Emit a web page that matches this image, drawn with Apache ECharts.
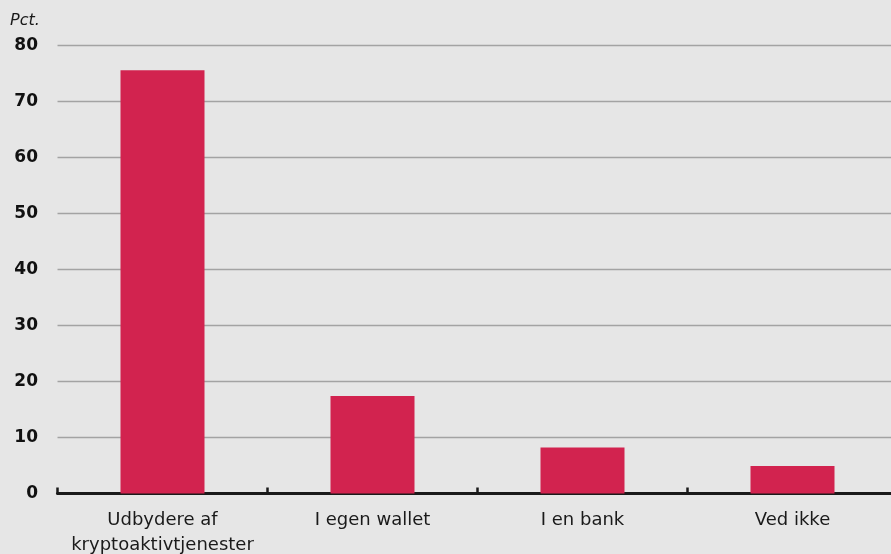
<!DOCTYPE html>
<html>
<head>
<meta charset="utf-8">
<script src="https://cdn.jsdelivr.net/npm/echarts@6/dist/echarts.min.js"></script>
<style>
html,body{margin:0;padding:0;background:#e6e6e6;}
#chart{width:891px;height:554px;}
</style>
</head>
<body>
<div id="chart"></div>
<script>
const categories = ['Udbydere af\nkryptoaktivtjenester', 'I egen wallet', 'I en bank', 'Ved ikke'];
const values = [75.6, 17.4, 8.2, 4.9];
const yTicks = [0, 10, 20, 30, 40, 50, 60, 70, 80];
const unitLabel = 'Pct.';

const chart = echarts.init(document.getElementById('chart'), null, {renderer: 'canvas'});
chart.setOption({
  backgroundColor: '#e6e6e6',
  animation: false,
  textStyle: {fontFamily: 'DejaVu Sans'},
  graphic: [{
    type: 'text', left: 10, top: 13,
    style: {text: unitLabel, fontFamily: 'DejaVu Sans', fontStyle: 'italic', fontSize: 16, fill: '#1a1a1a'}
  }],
  grid: {left: 57.5, right: -6.5, top: 45.7, bottom: 60.5, containLabel: false, outerBoundsMode: 'none'},
  xAxis: {
    type: 'category',
    data: categories,
    boundaryGap: true,
    axisLine: {show: true, lineStyle: {color: '#1a1a1a', width: 3}},
    axisTick: {show: true, inside: true, interval: 0, length: 6, alignWithLabel: false, lineStyle: {color: '#1a1a1a', width: 2.5}},
    axisLabel: {color: '#1a1a1a', interval: 0, fontSize: 18, lineHeight: 25, margin: 14, fontFamily: 'DejaVu Sans', hideOverlap: false},
    splitLine: {show: false}
  },
  yAxis: {
    type: 'value',
    min: yTicks[0], max: yTicks[yTicks.length - 1], interval: yTicks[1] - yTicks[0],
    axisLine: {show: false},
    axisTick: {show: false},
    axisLabel: {color: '#111', fontSize: 17, fontWeight: 'bold', margin: 19.5, fontFamily: 'DejaVu Sans'},
    splitLine: {show: true, lineStyle: {color: '#a3a3a3', width: 1.3}}
  },
  series: [{
    type: 'bar',
    data: values,
    barWidth: '40%',
    itemStyle: {color: '#d2234f'},
    z: 1
  }]
});
</script>
</body>
</html>
